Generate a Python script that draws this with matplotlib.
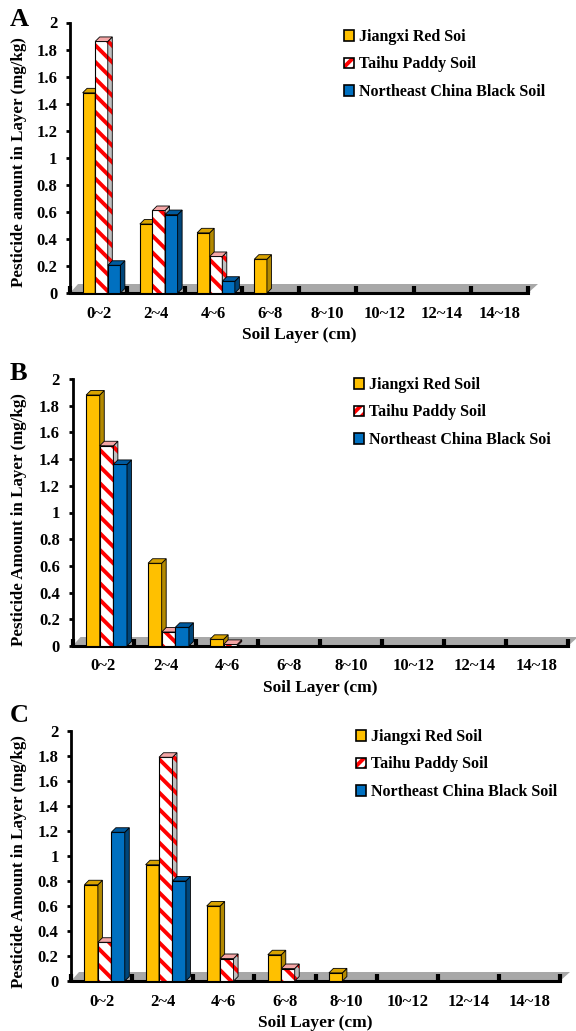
import matplotlib
matplotlib.use('Agg')
import matplotlib.pyplot as plt
from matplotlib.patches import Patch, Polygon
from matplotlib.legend_handler import HandlerTuple
import numpy as np

plt.rcParams['font.family'] = ['Liberation Serif', 'DejaVu Serif']
plt.rcParams['font.weight'] = 'bold'
plt.rcParams['axes.labelweight'] = 'bold'
plt.rcParams['hatch.linewidth'] = 2.8

layers = ['0~2', '2~4', '4~6', '6~8', '8~10', '10~12', '12~14', '14~18']

# panel A (mg/kg)
jiangxi_a = [1.48, 0.51, 0.445, 0.25, 0, 0, 0, 0]
taihu_a = [1.86, 0.61, 0.27, 0, 0, 0, 0, 0]
black_a = [0.205, 0.58, 0.087, 0, 0, 0, 0, 0]
# panel B
jiangxi_b = [1.88, 0.62, 0.05, 0, 0, 0, 0, 0]
taihu_b = [1.50, 0.105, 0.012, 0, 0, 0, 0, 0]
black_b = [1.36, 0.14, 0, 0, 0, 0, 0, 0]
# panel C
jiangxi_c = [0.77, 0.93, 0.60, 0.21, 0.065, 0, 0, 0]
taihu_c = [0.31, 1.79, 0.18, 0.10, 0, 0, 0, 0]
black_c = [1.19, 0.80, 0, 0, 0, 0, 0, 0]

legend_a = ['Jiangxi Red Soi', 'Taihu Paddy Soil', 'Northeast China Black Soil']
legend_b = ['Jiangxi Red Soil', 'Taihu Paddy Soil', 'Northeast China Black Soi']
legend_c = ['Jiangxi Red Soil', 'Taihu Paddy Soil', 'Northeast China Black Soil']

ylabel_a = 'Pesticide amount in Layer (mg/kg)'
ylabel_bc = 'Pesticide Amount in Layer (mg/kg)'

# front, side, top colours
styles = [
    dict(front='#FFC000', side='#B38900', top='#D9A300', hatch=None),
    dict(front='white', side='#BFBFBF', top='#F4A6A6', hatch='\\\\'),
    dict(front='#0070C0', side='#00467A', top='#005A9E', hatch=None),
]

W, H = 576, 1031
fig = plt.figure(figsize=(W / 100, H / 100), dpi=100)


def add_axes_px(left, right, top, bottom):
    return fig.add_axes([left / W, 1 - bottom / H, (right - left) / W, (bottom - top) / H])


def draw_panel(ax, series, box, letter, letter_y, ylabel, ylabel_y, labels, leg_xy):
    left, right, top, bottom = box
    n = len(layers)
    cat_px = (right - left) / n
    unit_px = (bottom - top) / 2.0
    depth = 4.5
    ddx, ddy = depth / cat_px, depth / unit_px
    fdx, fdy = 10 / cat_px, 9 / unit_px
    x = np.arange(n)
    w = 0.22
    shift = 0.05

    # grey floor
    floor = Polygon([(-0.5, 0), (n - 0.5, 0), (n - 0.5 + fdx, fdy), (-0.5 + fdx * 0.8, fdy)],
                    closed=True, facecolor='#A8A8A8', edgecolor='none', zorder=1, clip_on=False)
    ax.add_patch(floor)

    for k, (vals, st) in enumerate(zip(series, styles)):
        xs = x + shift + (k - 1) * w
        vals = np.array(vals, dtype=float)
        keep = vals > 0
        z = 3 + k
        if st['hatch']:
            ax.bar(xs[keep], vals[keep], w, facecolor='white', edgecolor='#FF0000',
                   linewidth=0, hatch=st['hatch'], zorder=z)
            ax.bar(xs[keep], vals[keep], w, fill=False, edgecolor='black', linewidth=0.8, zorder=z)
        else:
            ax.bar(xs[keep], vals[keep], w, color=st['front'], edgecolor='black',
                   linewidth=0.8, zorder=z)
        for xi, h in zip(xs[keep], vals[keep]):
            x0, x1 = xi - w / 2, xi + w / 2
            side = [(x1, 0), (x1 + ddx, ddy), (x1 + ddx, h + ddy), (x1, h)]
            topf = [(x0, h), (x1, h), (x1 + ddx, h + ddy), (x0 + ddx, h + ddy)]
            if st['hatch']:
                ax.add_patch(Polygon(side, facecolor=st['side'], edgecolor='#FF0000', linewidth=0,
                                     hatch=st['hatch'], zorder=z, clip_on=False))
                ax.add_patch(Polygon(side, fill=False, edgecolor='black', linewidth=0.6,
                                     zorder=z, clip_on=False))
            else:
                ax.add_patch(Polygon(side, facecolor=st['side'], edgecolor='black', linewidth=0.6,
                                     zorder=z, clip_on=False))
            ax.add_patch(Polygon(topf, facecolor=st['top'], edgecolor='black', linewidth=0.6,
                                 zorder=z, clip_on=False))

    ax.set_xlim(-0.5, n - 0.5)
    ax.set_ylim(0, 2)
    ax.set_yticks(np.arange(0, 2.01, 0.2))
    ax.set_yticklabels(['%g' % round(v, 1) for v in np.arange(0, 2.01, 0.2)])
    ax.set_xticks(x)
    ax.set_xticklabels(layers)
    ax.set_xticks(np.arange(n + 1) - 0.5, minor=True)
    ax.tick_params(axis='x', which='major', length=0, pad=9, labelsize=12)
    ax.tick_params(axis='x', which='minor', direction='in', length=5, width=3, color='black')
    ax.tick_params(axis='y', direction='out', length=3, width=2, pad=6, labelsize=12)
    for s in ['top', 'right']:
        ax.spines[s].set_visible(False)
    ax.spines['left'].set_linewidth(2)
    ax.spines['bottom'].set_linewidth(2.2)
    ax.patch.set_alpha(0)

    ax.set_ylabel(ylabel, fontsize=12.2)
    ax.yaxis.set_label_coords((27 - left) / (right - left), (bottom - ylabel_y) / (bottom - top))
    ax.set_xlabel('Soil Layer (cm)', fontsize=12.5)
    ax.xaxis.set_label_coords(0.5, -34 / (bottom - top))
    ax.xaxis.label.set_va('top')

    fig.text(10 / W, 1 - letter_y / H, letter, fontsize=19, fontweight='bold', va='center')

    handles = []
    for st in styles:
        if st['hatch']:
            handles.append((Patch(facecolor='white', edgecolor='#FF0000', linewidth=0, hatch='///'),
                            Patch(fill=False, edgecolor='black', linewidth=1.2)))
        else:
            handles.append(Patch(facecolor=st['front'], edgecolor='black', linewidth=1.2))
    ax.legend(handles, labels, loc='upper left', bbox_to_anchor=(leg_xy[0] / W, 1 - leg_xy[1] / H),
              bbox_transform=fig.transFigure, frameon=False, fontsize=11.5, handlelength=0.65,
              handleheight=0.65, handletextpad=0.3, labelspacing=0.72, borderpad=0, borderaxespad=0,
              handler_map={tuple: HandlerTuple(ndivide=1, pad=0)})


ax_a = add_axes_px(70, 528, 22.5, 293)
draw_panel(ax_a, [jiangxi_a, taihu_a, black_a], (70, 528, 22.5, 293), 'A', 20,
           ylabel_a, 162, legend_a, (344, 29))

ax_b = add_axes_px(72.5, 568, 379, 646)
draw_panel(ax_b, [jiangxi_b, taihu_b, black_b], (72.5, 568, 379, 646), 'B', 373,
           ylabel_bc, 520, legend_b, (354, 377))

ax_c = add_axes_px(71, 560, 731, 981)
draw_panel(ax_c, [jiangxi_c, taihu_c, black_c], (71, 560, 731, 981), 'C', 716,
           ylabel_bc, 862, legend_c, (356, 729))

fig.savefig('out.png', dpi=100)
